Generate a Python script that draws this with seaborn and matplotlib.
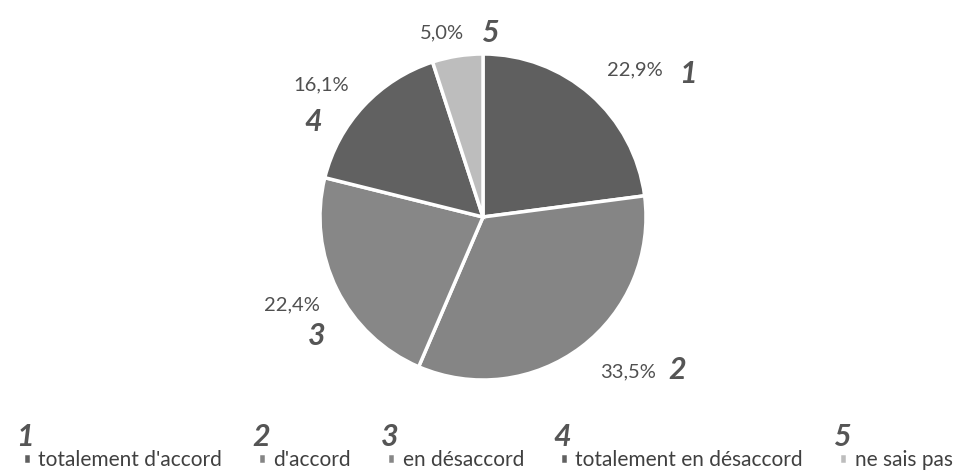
import matplotlib
matplotlib.use("Agg")
import matplotlib.pyplot as plt
import seaborn as sns

# data
categories = ["totalement d'accord", "d'accord", "en désaccord",
              "totalement en désaccord", "ne sais pas"]
shares = [22.9, 33.5, 22.4, 16.1, 5.0]
pct_labels = ["22,9%", "33,5%", "22,4%", "16,1%", "5,0%"]
marks = ["1", "2", "3", "4", "5"]
colors = ["#5f5f5f", "#858585", "#878787", "#616161", "#bdbdbd"]

sns.set_theme(style="white")
plt.rcParams["font.family"] = ["Lato", "DejaVu Sans"]

fig = plt.figure(figsize=(9.64, 4.70), dpi=100)
lim = 1.4
R_px = 163
ax = fig.add_axes([(483 - lim * R_px) / 964, (253 - lim * R_px) / 470,
                   2 * lim * R_px / 964, 2 * lim * R_px / 470])

wedges, _ = ax.pie(shares, colors=colors, startangle=90, counterclock=False,
                   wedgeprops=dict(edgecolor="white", linewidth=2.5))
ax.set_xlim(-lim, lim)
ax.set_ylim(-lim, lim)
ax.set_aspect("equal")
ax.axis("off")

# label placement (data units, radius = 1)
pct_pos = [(0.93, 0.90), (0.89, -0.95), (-1.17, -0.54), (-0.99, 0.81), (-0.25, 1.13)]
mark_pos = [(1.26, 0.88), (1.19, -0.94), (-1.02, -0.73), (-1.04, 0.58), (0.04, 1.13)]
for txt, (x, y) in zip(pct_labels, pct_pos):
    ax.text(x, y, txt, ha="center", va="center", fontsize=14.5, color="#505050",
            clip_on=False)
for m, (x, y) in zip(marks, mark_pos):
    ax.text(x, y, m, ha="center", va="center", fontsize=22, color="#555555",
            fontweight="bold", fontstyle="italic", clip_on=False)

leg = fig.legend(wedges, categories, loc="lower left", bbox_to_anchor=(0.004, -0.04),
                 ncol=5, frameon=False, fontsize=15, handlelength=0.4,
                 handleheight=0.4, handletextpad=0.35, columnspacing=1.72,
                 labelcolor="#404040")

fig.canvas.draw()
inv = fig.transFigure.inverted()
for h, m in zip(leg.legend_handles, marks):
    bb = h.get_window_extent()
    x, y = inv.transform((bb.x0 - 6, bb.y1))
    fig.text(x, y + 0.006, m, ha="left", va="bottom", fontsize=22,
             color="#555555", fontweight="bold", fontstyle="italic")

fig.savefig("out.png", dpi=100, facecolor="white")
